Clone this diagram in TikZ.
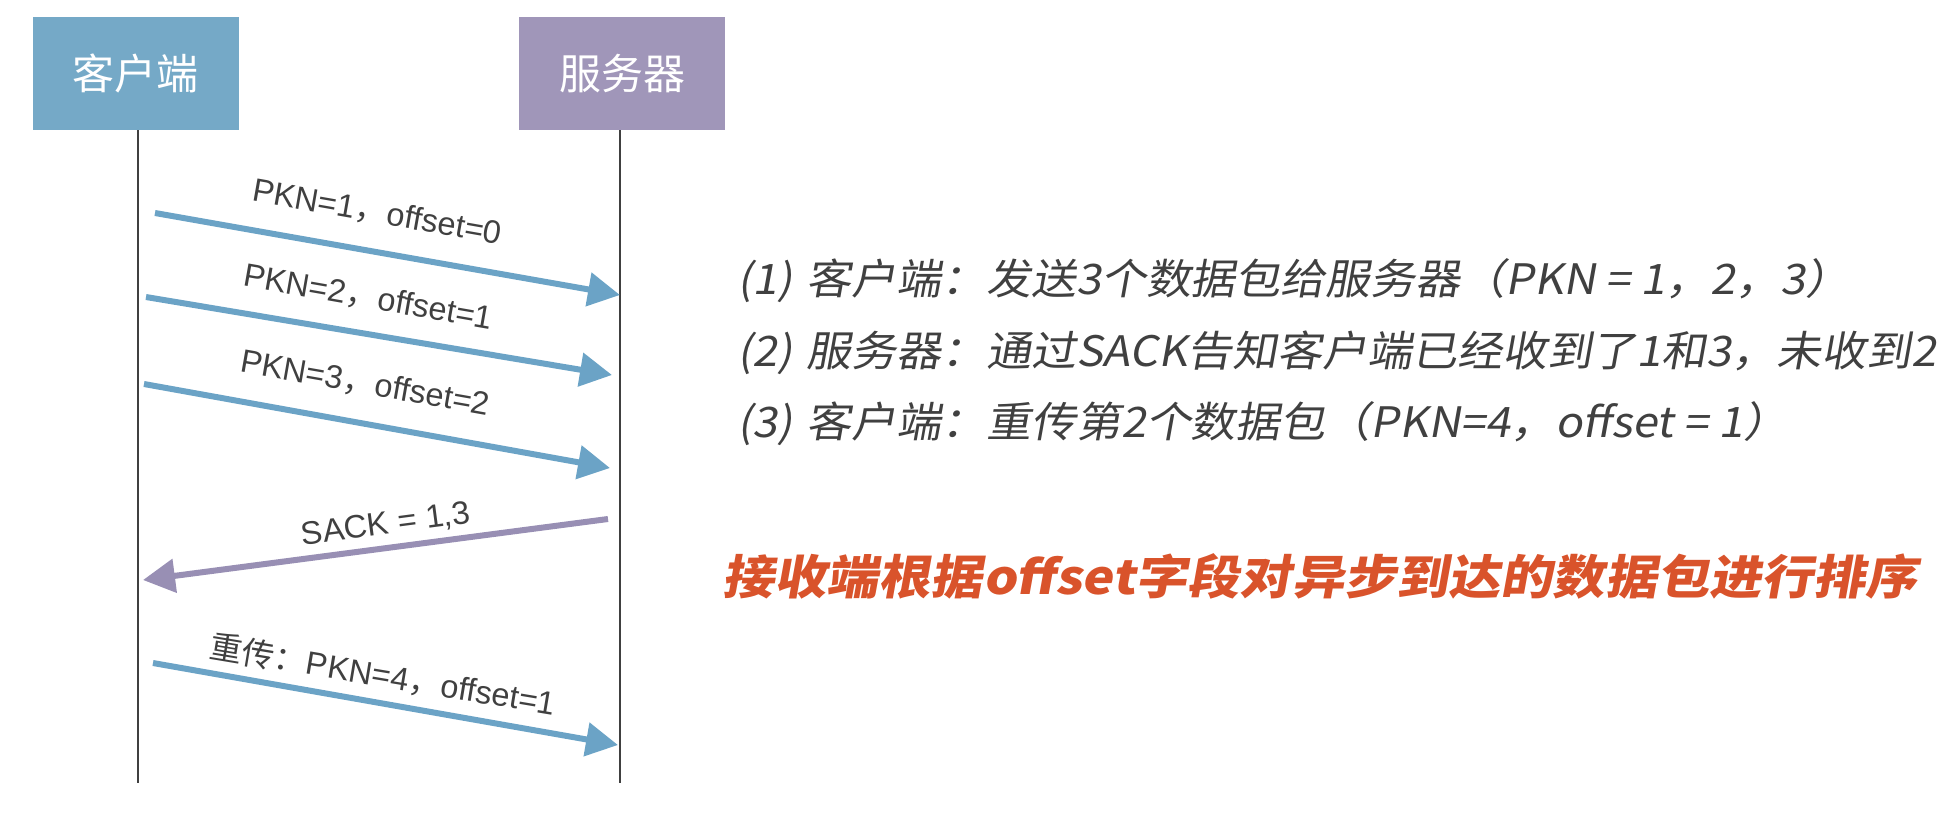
\documentclass[tikz,border=0pt]{standalone}
\usepackage{fontspec}
\setmainfont{Liberation Sans}
\newfontfamily\cjk{Noto Sans CJK SC}
\newfontfamily\slantcjk[FakeSlant=0.18,FakeStretch=1.07]{Noto Sans CJK SC}
\newfontfamily\redcjk[FakeSlant=0.18,FakeStretch=1.11]{Noto Sans CJK SC}
\usetikzlibrary{arrows.meta}
\definecolor{clientc}{RGB}{117,169,199}
\definecolor{serverc}{RGB}{160,150,185}
\definecolor{arrblue}{RGB}{107,163,198}
\definecolor{arrpurp}{RGB}{152,143,180}
\definecolor{txtgray}{RGB}{64,64,64}
\definecolor{redtxt}{RGB}{217,83,43}
\tikzset{
  actor/.style={minimum width=206pt,minimum height=113pt,inner sep=0pt,text=white,font=\cjk\fontsize{42}{46}\selectfont},
  lifeline/.style={draw=black!75,line width=1.2pt},
  msg/.style={line width=6pt,-{Triangle[length=32pt,width=33pt]}},
  lbl/.style={font=\fontsize{32.5}{36}\selectfont,text=black!75,inner sep=0pt},
  note/.style={anchor=west,font=\slantcjk\fontsize{42}{46}\selectfont,text=txtgray,inner sep=0pt},
}
\begin{document}
\begin{tikzpicture}[x=1pt,y=-1pt]
\useasboundingbox (0,0) rectangle (1942,818);
% actors
\node[actor,fill=clientc] (client) at (135.5,73.5) {客户端};
\node[actor,fill=serverc] (server) at (622,73.5) {服务器};
% lifelines
\coordinate (cend) at (138,783);
\coordinate (send) at (620,783);
\draw[lifeline] (client.south -| cend) -- (cend);
\draw[lifeline] (server.south -| send) -- (send);
% message end points
\coordinate (a1s) at (155,213); \coordinate (a1e) at (620,295);
\coordinate (a2s) at (146,297); \coordinate (a2e) at (612,375);
\coordinate (a3s) at (144,384); \coordinate (a3e) at (610,468);
\coordinate (sks) at (608,519); \coordinate (ske) at (143,580);
\coordinate (rts) at (153,663); \coordinate (rte) at (618,745);
\draw[msg,draw=arrblue,color=arrblue] (a1s) -- (a1e);
\draw[msg,draw=arrblue,color=arrblue] (a2s) -- (a2e);
\draw[msg,draw=arrblue,color=arrblue] (a3s) -- (a3e);
\draw[msg,draw=arrpurp,color=arrpurp] (sks) -- (ske);
\draw[msg,draw=arrblue,color=arrblue] (rts) -- (rte);
% labels
\node[lbl,rotate=-10] (l1) at (377,213) {PKN=1{\cjk ，}offset=0};
\node[lbl,rotate=-10] (l2) at (368,298) {PKN=2{\cjk ，}offset=1};
\node[lbl,rotate=-10] (l3) at (365,384) {PKN=3{\cjk ，}offset=2};
\node[lbl,rotate=7.5] (l4) at (386,525) {SACK = 1,3};
\node[lbl,rotate=-9.5] (l5) at (383,675) {{\cjk 重传：}PKN=4{\cjk ，}offset=1};
% notes
\node[note] (n1) at (737,281) {(1)\,\,客户端：发送3个数据包给服务器（PKN = 1，2，3）};
\node[note] (n2) at (737,353) {(2)\,\,服务器：通过SACK告知客户端已经收到了1和3，未收到2};
\node[note] (n3) at (737,424) {(3)\,\,客户端：重传第2个数据包（PKN=4，offset = 1）};
\node[note,font=\redcjk\bfseries\fontsize{47}{50}\selectfont,text=redtxt] (n4) at (722,576) {接收端根据offset字段对异步到达的数据包进行排序};
\end{tikzpicture}
\end{document}
